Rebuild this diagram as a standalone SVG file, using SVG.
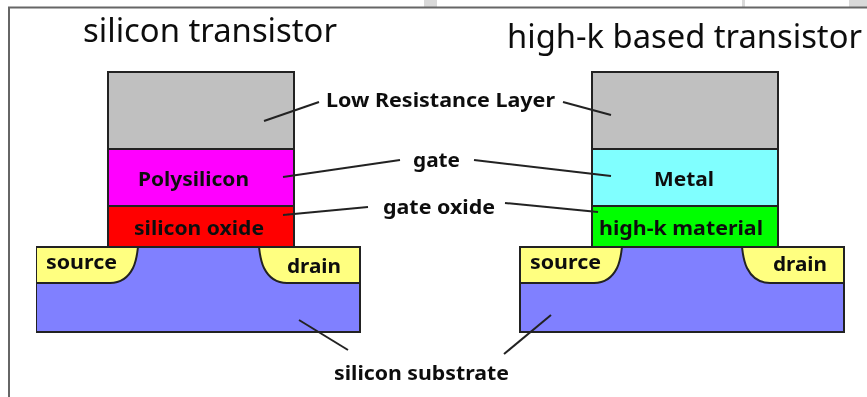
<svg xmlns="http://www.w3.org/2000/svg" width="867" height="397" viewBox="0 0 867 397">
<style>
.s{stroke:#222;stroke-width:2}
.t{font-family:"Noto Sans","DejaVu Sans",sans-serif;fill:#111}
.h{font-size:32px}
.b{font-size:19.500px;font-weight:bold}
.c{fill:none;stroke:#222;stroke-width:2}
.y{fill:#ffff80}.u{fill:#8080ff}.g{fill:#c0c0c0}
</style>
<defs><filter id="soft" x="0" y="0" width="100%" height="100%"><feGaussianBlur stdDeviation="0.45"/></filter></defs>
<rect width="867" height="397" fill="#fff"/>
<g id="frame" fill="#d9d9d9">
<rect x="424" y="0" width="13" height="7"/>
<rect x="742" y="0" width="3" height="7"/>
<rect x="849" y="0" width="18" height="7"/>
<path d="M9 397V7.500H867" fill="none" stroke="#666" stroke-width="2"/>
</g>
<g filter="url(#soft)">
<g id="title-left"><text class="t h" x="83" y="42" textLength="254" lengthAdjust="spacingAndGlyphs">silicon transistor</text></g>
<g id="title-right"><text class="t h" x="507" y="48" textLength="355" lengthAdjust="spacingAndGlyphs">high-k based transistor</text></g>

<g id="left-substrate">
<rect class="u s" x="36" y="247" width="324" height="85"/>
<path class="y s" d="M36 247H138C137 256 136 262 133 268C129 276 122 283 110 283H36Z"/>
<path class="y s" d="M360 247H259C260 256 261 262 264 268C268 276 275 283 287 283H360Z"/>
<text class="t b" x="46" y="269" textLength="71" lengthAdjust="spacingAndGlyphs">source</text>
<text class="t b" x="287" y="273" textLength="54" lengthAdjust="spacingAndGlyphs">drain</text>
</g>
<g id="left-low-resistance"><rect class="g s" x="108" y="72" width="186" height="77"/></g>
<g id="left-polysilicon"><rect class="s" fill="#ff00ff" x="108" y="149" width="186" height="57"/><text class="t b" x="138" y="186" textLength="111" lengthAdjust="spacingAndGlyphs">Polysilicon</text></g>
<g id="left-oxide"><rect class="s" fill="#ff0000" x="108" y="206" width="186" height="41"/><text class="t b" x="134" y="235" textLength="130" lengthAdjust="spacingAndGlyphs">silicon oxide</text></g>

<g id="right-substrate">
<rect class="u s" x="520" y="247" width="324" height="85"/>
<path class="y s" d="M520 247H622C621 256 620 262 617 268C613 276 606 283 594 283H520Z"/>
<path class="y s" d="M844 247H742C743 256 744 262 747 268C751 276 758 283 770 283H844Z"/>
<text class="t b" x="530" y="269" textLength="71" lengthAdjust="spacingAndGlyphs">source</text>
<text class="t b" x="773" y="271" textLength="54" lengthAdjust="spacingAndGlyphs">drain</text>
</g>
<g id="right-low-resistance"><rect class="g s" x="592" y="72" width="186" height="77"/></g>
<g id="right-metal"><rect class="s" fill="#80ffff" x="592" y="149" width="186" height="57"/><text class="t b" x="654" y="186" textLength="60" lengthAdjust="spacingAndGlyphs">Metal</text></g>
<g id="right-highk"><rect class="s" fill="#00ff00" x="592" y="206" width="186" height="41"/><text class="t b" x="599" y="235" textLength="164" lengthAdjust="spacingAndGlyphs">high-k material</text></g>

<g id="connectors">
<path class="c" d="M264 121L319 102"/>
<path class="c" d="M563 102L611 115"/>
<path class="c" d="M283 177L400 160"/>
<path class="c" d="M474 160L611 176"/>
<path class="c" d="M283 215L368 207"/>
<path class="c" d="M505 203L598 212"/>
<path class="c" d="M299 320L348 350"/>
<path class="c" d="M551 315L504 354"/>
</g>
<g id="labels">
<text class="t b" x="326" y="107" textLength="229" lengthAdjust="spacingAndGlyphs">Low Resistance Layer</text>
<text class="t b" x="413" y="167" textLength="47" lengthAdjust="spacingAndGlyphs">gate</text>
<text class="t b" x="383" y="214" textLength="112" lengthAdjust="spacingAndGlyphs">gate oxide</text>
<text class="t b" x="334" y="380" textLength="175" lengthAdjust="spacingAndGlyphs">silicon substrate</text>
</g>
</g>
</svg>
